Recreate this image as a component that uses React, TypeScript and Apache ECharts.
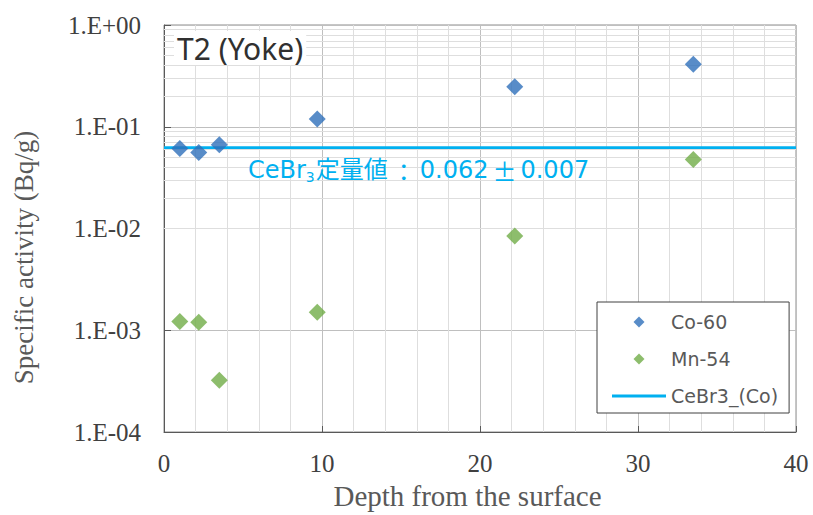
import React, { useEffect, useRef } from "react";
import * as echarts from "echarts";

const depthCo60: number[] = [1.0, 2.2, 3.5, 9.7, 22.2, 33.5];
const valuesCo60: number[] = [0.061, 0.0557, 0.0667, 0.119, 0.247, 0.411];
const depthMn54: number[] = [1.0, 2.2, 3.5, 9.7, 22.2, 33.5];
const valuesMn54: number[] = [0.00122, 0.0012, 0.000323, 0.0015, 0.00845, 0.0477];
const cebr3X: number[] = [0, 40];
const cebr3Value = 0.062;
const seriesNames = ["Co-60", "Mn-54", "CeBr3_(Co)"];

const minorYLines: number[] = [];
for (let e = -4; e <= -1; e++) {
  for (let m = 2; m <= 9; m++) minorYLines.push(m * Math.pow(10, e));
}

function fmtExp(v: number): string {
  const e = Math.round(Math.log10(v));
  const sign = e < 0 ? "-" : "+";
  const a = Math.abs(e);
  return "1.E" + sign + (a < 10 ? "0" + a : String(a));
}

export default function App() {
  const ref = useRef<HTMLDivElement>(null);
  useEffect(() => {
    if (!ref.current) return;
    const chart = echarts.init(ref.current, null, { renderer: "svg" });
    const serif = "'Liberation Serif', 'Times New Roman', serif";
    const sans = "'DejaVu Sans', 'Noto Sans CJK JP', sans-serif";
    const diamondIcon = "path://M5 0L10 5L5 10L0 5Z";
    chart.setOption({
      animation: false,
      backgroundColor: "#ffffff",
      grid: {
        left: 164,
        top: 25,
        right: 17,
        bottom: 75,
        show: true,
        borderColor: "#8c8c8c",
        borderWidth: 1,
        containLabel: false,
      },
      title: {
        text: "T2 (Yoke)",
        left: 174,
        top: 31,
        padding: [0, 3, 0, 3],
        backgroundColor: "#ffffff",
        textStyle: {
          fontFamily: "'Noto Sans', sans-serif",
          fontSize: 30,
          fontWeight: "normal",
          color: "#303030",
          lineHeight: 34,
        },
      },
      legend: {
        orient: "vertical",
        left: 597,
        top: 302,
        data: [
          { name: seriesNames[0], icon: diamondIcon },
          { name: seriesNames[1], icon: diamondIcon },
          { name: seriesNames[2], icon: "path://M0 0H54V3H0Z" },
        ],
        symbolKeepAspect: true,
        backgroundColor: "#ffffff",
        borderColor: "#404040",
        borderWidth: 1,
        borderRadius: 0,
        padding: [10, 11, 7, 15],
        itemWidth: 54,
        itemHeight: 11,
        itemGap: 17,
        textStyle: {
          fontFamily: sans,
          fontSize: 19,
          color: "#595959",
          lineHeight: 20,
        },
      },
      xAxis: {
        type: "value",
        min: 0,
        max: 40,
        interval: 10,
        name: "Depth from the surface",
        nameLocation: "middle",
        nameGap: 49,
        nameTextStyle: {
          fontFamily: serif,
          fontSize: 29,
          color: "#595959",
          padding: [0, 25, 0, 0],
        },
        axisLine: { show: true, lineStyle: { color: "#595959", width: 1 } },
        axisTick: { show: true, inside: true, length: 6, lineStyle: { color: "#595959" } },
        minorTick: { show: false, splitNumber: 5 },
        axisLabel: {
          fontFamily: serif,
          fontSize: 25,
          color: "#404040",
          margin: 19,
        },
        splitLine: { show: true, lineStyle: { color: "#bfbfbf", width: 1 } },
        minorSplitLine: { show: true, lineStyle: { color: "#dedede", width: 1 } },
      },
      yAxis: {
        type: "log",
        logBase: 10,
        min: 0.0001,
        max: 1,
        name: "Specific activity (Bq/g)",
        nameLocation: "middle",
        nameGap: 127,
        nameRotate: 90,
        nameTextStyle: {
          fontFamily: serif,
          fontSize: 27,
          color: "#595959",
          padding: [0, 58, 0, 0],
        },
        axisLine: { show: true, lineStyle: { color: "#595959", width: 1 } },
        axisTick: { show: true, inside: true, length: 7, lineStyle: { color: "#595959" } },
        axisLabel: {
          fontFamily: serif,
          fontSize: 25,
          color: "#404040",
          margin: 23,
          formatter: (v: number) => fmtExp(v),
        },
        splitLine: { show: true, lineStyle: { color: "#bfbfbf", width: 1 } },
      },
      graphic: [
        {
          type: "text",
          left: 248,
          top: 158,
          z: 20,
          style: {
            text: "CeBr{sub|3}定量値{gap|：}0.062{gap|±}0.007",
            fill: "#00b0f0",
            font: "24px 'DejaVu Sans', 'Noto Sans CJK JP', sans-serif",
            rich: {
              sub: {
                fontSize: 14,
                fontFamily: "'DejaVu Sans', sans-serif",
                fill: "#00b0f0",
                padding: [13, 1, 0, 0],
              },
              gap: {
                fontSize: 24,
                fontFamily: "'Noto Sans CJK JP', 'DejaVu Sans', sans-serif",
                fill: "#00b0f0",
                padding: [0, 4, 0, 4],
              },
            },
          },
        },
      ],
      series: [
        {
          name: "gridMinor",
          type: "scatter",
          data: [],
          silent: true,
          z: 1,
          markLine: {
            silent: true,
            symbol: "none",
            label: { show: false },
            lineStyle: { color: "#dedede", width: 1, type: "solid" },
            emphasis: { disabled: true },
            data: minorYLines.map((v) => ({ yAxis: v })),
          },
        },
        {
          name: seriesNames[2],
          type: "line",
          data: cebr3X.map((x) => [x, cebr3Value]),
          symbol: "none",
          z: 3,
          lineStyle: { color: "#00b0f0", width: 3 },
          itemStyle: { color: "#00b0f0" },
        },
        {
          name: seriesNames[0],
          type: "scatter",
          symbol: "diamond",
          symbolSize: 17,
          z: 5,
          itemStyle: { color: "#2e6fba" },
          data: depthCo60.map((x, i) => [x, valuesCo60[i]]),
        },
        {
          name: seriesNames[1],
          type: "scatter",
          symbol: "diamond",
          symbolSize: 17,
          z: 5,
          itemStyle: { color: "#70ad47" },
          data: depthMn54.map((x, i) => [x, valuesMn54[i]]),
        },
      ],
    });
    return () => chart.dispose();
  }, []);
  return (
    <div
      ref={ref}
      style={{ position: "absolute", left: 0, top: 0, width: 813, height: 515 }}
    />
  );
}
